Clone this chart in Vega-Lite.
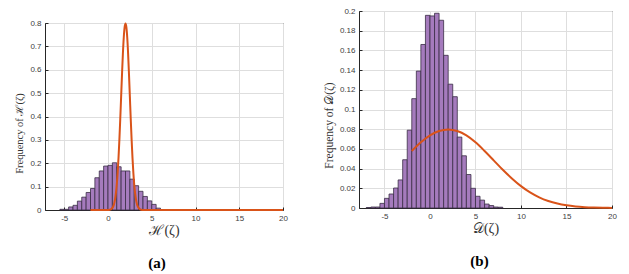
{
  "$schema": "https://vega.github.io/schema/vega-lite/v6.json",
  "background": "white",
  "padding": {"left": 14, "top": 6, "right": 5, "bottom": 2},
  "config": {
    "view": {"stroke": "#262626", "strokeWidth": 1},
    "axis": {
      "labelFont": "Liberation Sans", "labelFontSize": 8, "labelColor": "#404040",
      "domainColor": "#262626", "tickColor": "#262626", "gridColor": "#dedede",
      "titleFont": "Liberation Serif, DejaVu Serif, serif", "titleFontWeight": "normal", "titleColor": "#333333",
      "tickSize": -3, "labelPadding": 7, "labelFlush": false, "labelOverlap": false, "labelBound": false
    }
  },
  "datasets": {
    "histA": [
      {"lo": -5.5, "hi": -5.0, "f": 0.003},
      {"lo": -5.0, "hi": -4.5, "f": 0.003},
      {"lo": -4.5, "hi": -4.0, "f": 0.013},
      {"lo": -4.0, "hi": -3.5, "f": 0.02},
      {"lo": -3.5, "hi": -3.0, "f": 0.038},
      {"lo": -3.0, "hi": -2.5, "f": 0.055},
      {"lo": -2.5, "hi": -2.0, "f": 0.075},
      {"lo": -2.0, "hi": -1.5, "f": 0.092},
      {"lo": -1.5, "hi": -1.0, "f": 0.138},
      {"lo": -1.0, "hi": -0.5, "f": 0.167},
      {"lo": -0.5, "hi": 0.0, "f": 0.188},
      {"lo": 0.0, "hi": 0.5, "f": 0.191},
      {"lo": 0.5, "hi": 1.0, "f": 0.202},
      {"lo": 1.0, "hi": 1.5, "f": 0.185},
      {"lo": 1.5, "hi": 2.0, "f": 0.167},
      {"lo": 2.0, "hi": 2.5, "f": 0.167},
      {"lo": 2.5, "hi": 3.0, "f": 0.132},
      {"lo": 3.0, "hi": 3.5, "f": 0.104},
      {"lo": 3.5, "hi": 4.0, "f": 0.08},
      {"lo": 4.0, "hi": 4.5, "f": 0.058},
      {"lo": 4.5, "hi": 5.0, "f": 0.039},
      {"lo": 5.0, "hi": 5.5, "f": 0.024},
      {"lo": 5.5, "hi": 6.0, "f": 0.008}
    ],
    "curveA": [
      {"x": -2, "y": 0}, {"x": 0, "y": 0.00027}, {"x": 0.2, "y": 0.00122}, {"x": 0.4, "y": 0.00477},
      {"x": 0.5, "y": 0.00886}, {"x": 0.6, "y": 0.0158}, {"x": 0.7, "y": 0.0272}, {"x": 0.8, "y": 0.0448},
      {"x": 0.9, "y": 0.0709}, {"x": 1.0, "y": 0.108}, {"x": 1.1, "y": 0.158}, {"x": 1.2, "y": 0.222},
      {"x": 1.3, "y": 0.300}, {"x": 1.4, "y": 0.388}, {"x": 1.5, "y": 0.484}, {"x": 1.6, "y": 0.579},
      {"x": 1.7, "y": 0.667}, {"x": 1.8, "y": 0.737}, {"x": 1.9, "y": 0.782}, {"x": 2.0, "y": 0.798},
      {"x": 2.1, "y": 0.782}, {"x": 2.2, "y": 0.737}, {"x": 2.3, "y": 0.667}, {"x": 2.4, "y": 0.579},
      {"x": 2.5, "y": 0.484}, {"x": 2.6, "y": 0.388}, {"x": 2.7, "y": 0.300}, {"x": 2.8, "y": 0.222},
      {"x": 2.9, "y": 0.158}, {"x": 3.0, "y": 0.108}, {"x": 3.1, "y": 0.0709}, {"x": 3.2, "y": 0.0448},
      {"x": 3.3, "y": 0.0272}, {"x": 3.4, "y": 0.0158}, {"x": 3.5, "y": 0.00886}, {"x": 3.6, "y": 0.00477},
      {"x": 3.8, "y": 0.00122}, {"x": 4.0, "y": 0.00027}, {"x": 6, "y": 0}, {"x": 20, "y": 0}
    ],
    "histB": [
      {"lo": -7.0, "hi": -6.5, "f": 0.0005},
      {"lo": -6.5, "hi": -6.0, "f": 0.001},
      {"lo": -6.0, "hi": -5.5, "f": 0.001},
      {"lo": -5.5, "hi": -5.0, "f": 0.0047},
      {"lo": -5.0, "hi": -4.5, "f": 0.0098},
      {"lo": -4.5, "hi": -4.0, "f": 0.0142},
      {"lo": -4.0, "hi": -3.5, "f": 0.0203},
      {"lo": -3.5, "hi": -3.0, "f": 0.0285},
      {"lo": -3.0, "hi": -2.5, "f": 0.049},
      {"lo": -2.5, "hi": -2.0, "f": 0.079},
      {"lo": -2.0, "hi": -1.5, "f": 0.111},
      {"lo": -1.5, "hi": -1.0, "f": 0.139},
      {"lo": -1.0, "hi": -0.5, "f": 0.166},
      {"lo": -0.5, "hi": 0.0, "f": 0.1956},
      {"lo": 0.0, "hi": 0.5, "f": 0.195},
      {"lo": 0.5, "hi": 1.0, "f": 0.1977},
      {"lo": 1.0, "hi": 1.5, "f": 0.1906},
      {"lo": 1.5, "hi": 2.0, "f": 0.155},
      {"lo": 2.0, "hi": 2.5, "f": 0.1257},
      {"lo": 2.5, "hi": 3.0, "f": 0.113},
      {"lo": 3.0, "hi": 3.5, "f": 0.072},
      {"lo": 3.5, "hi": 4.0, "f": 0.053},
      {"lo": 4.0, "hi": 4.5, "f": 0.034},
      {"lo": 4.5, "hi": 5.0, "f": 0.020},
      {"lo": 5.0, "hi": 5.5, "f": 0.0119},
      {"lo": 5.5, "hi": 6.0, "f": 0.008},
      {"lo": 6.0, "hi": 6.5, "f": 0.004},
      {"lo": 6.5, "hi": 7.0, "f": 0.0025},
      {"lo": 7.0, "hi": 7.5, "f": 0.001},
      {"lo": 7.5, "hi": 8.0, "f": 0.0008}
    ],
    "curveB": [
      {"x": -2, "y": 0.0579}, {"x": -1, "y": 0.0667}, {"x": 0, "y": 0.0737}, {"x": 1, "y": 0.0782},
      {"x": 2, "y": 0.0798}, {"x": 3, "y": 0.0782}, {"x": 4, "y": 0.0737}, {"x": 5, "y": 0.0667},
      {"x": 6, "y": 0.0579}, {"x": 7, "y": 0.0484}, {"x": 8, "y": 0.0388}, {"x": 9, "y": 0.0300},
      {"x": 10, "y": 0.0222}, {"x": 11, "y": 0.0158}, {"x": 12, "y": 0.0108}, {"x": 13, "y": 0.00709},
      {"x": 14, "y": 0.00448}, {"x": 15, "y": 0.00272}, {"x": 16, "y": 0.00158}, {"x": 17, "y": 0.000886},
      {"x": 18, "y": 0.000477}, {"x": 19, "y": 0.000247}, {"x": 20, "y": 0.000122}
    ]
  },
  "spacing": 34,
  "hconcat": [
    {
      "spacing": 6,
      "vconcat": [
        {
          "width": 238, "height": 1,
          "view": {"stroke": null},
          "data": {"values": []},
          "mark": "point",
          "encoding": {}
        },
        {
          "width": 238, "height": 187,
          "title": {"text": "(a)", "orient": "bottom", "font": "Liberation Serif, DejaVu Serif, serif", "fontSize": 15, "fontWeight": "bold", "offset": 19, "anchor": "middle", "dx": -7, "color": "#000000"},
          "layer": [
            {
              "data": {"name": "histA"},
              "mark": {"type": "rect", "fill": "#a57bbd", "stroke": "#3a2d45", "strokeWidth": 0.8},
              "encoding": {
                "x": {"field": "lo", "type": "quantitative", "scale": {"domain": [-7.2, 20], "nice": false, "zero": false},
                      "axis": {"values": [-5, 0, 5, 10, 15, 20], "labelExpr": "'' + datum.value", "title": "ℋ(ζ)", "titleFontSize": 14, "titlePadding": 1}},
                "x2": {"field": "hi"},
                "y": {"field": "f", "type": "quantitative", "scale": {"domain": [0, 0.8], "nice": false},
                      "axis": {"values": [0, 0.1, 0.2, 0.3, 0.4, 0.5, 0.6, 0.7, 0.8], "format": "~g", "title": "Frequency of ℋ(ζ)", "titleFontSize": 10.5, "titlePadding": 5, "titleY": 110}},
                "y2": {"datum": 0}
              }
            },
            {
              "data": {"name": "curveA"},
              "mark": {"type": "line", "color": "#d95319", "strokeWidth": 2, "interpolate": "monotone"},
              "encoding": {
                "x": {"field": "x", "type": "quantitative",
                      "axis": {"values": [-5, 0, 5, 10, 15, 20], "labelExpr": "'' + datum.value", "title": "ℋ(ζ)", "titleFontSize": 14, "titlePadding": 1}},
                "y": {"field": "y", "type": "quantitative",
                      "axis": {"values": [0, 0.1, 0.2, 0.3, 0.4, 0.5, 0.6, 0.7, 0.8], "format": "~g", "title": "Frequency of ℋ(ζ)", "titleFontSize": 10.5, "titlePadding": 5, "titleY": 110}}
              }
            }
          ]
        }
      ]
    },
    {
      "width": 253, "height": 197,
      "title": {"text": "(b)", "orient": "bottom", "font": "Liberation Serif, DejaVu Serif, serif", "fontSize": 15, "fontWeight": "bold", "offset": 19, "anchor": "middle", "dx": -6, "color": "#000000"},
      "layer": [
        {
          "data": {"name": "histB"},
          "mark": {"type": "rect", "fill": "#a57bbd", "stroke": "#3a2d45", "strokeWidth": 0.8},
          "encoding": {
            "x": {"field": "lo", "type": "quantitative", "scale": {"domain": [-7.8, 20], "nice": false, "zero": false},
                  "axis": {"values": [-5, 0, 5, 10, 15, 20], "labelExpr": "'' + datum.value", "title": "𝒟(ζ)", "titleFontSize": 14, "titlePadding": 1}},
            "x2": {"field": "hi"},
            "y": {"field": "f", "type": "quantitative", "scale": {"domain": [0, 0.2], "nice": false},
                  "axis": {"values": [0, 0.02, 0.04, 0.06, 0.08, 0.1, 0.12, 0.14, 0.16, 0.18, 0.2], "format": "~g", "title": "Frequency of 𝒟(ζ)", "titleFontSize": 11.5, "titlePadding": 5, "titleY": 114}},
            "y2": {"datum": 0}
          }
        },
        {
          "data": {"name": "curveB"},
          "mark": {"type": "line", "color": "#d95319", "strokeWidth": 2, "interpolate": "monotone"},
          "encoding": {
            "x": {"field": "x", "type": "quantitative",
                  "axis": {"values": [-5, 0, 5, 10, 15, 20], "labelExpr": "'' + datum.value", "title": "𝒟(ζ)", "titleFontSize": 14, "titlePadding": 1}},
            "y": {"field": "y", "type": "quantitative",
                  "axis": {"values": [0, 0.02, 0.04, 0.06, 0.08, 0.1, 0.12, 0.14, 0.16, 0.18, 0.2], "format": "~g", "title": "Frequency of 𝒟(ζ)", "titleFontSize": 11.5, "titlePadding": 5, "titleY": 114}}
          }
        }
      ]
    }
  ]
}
